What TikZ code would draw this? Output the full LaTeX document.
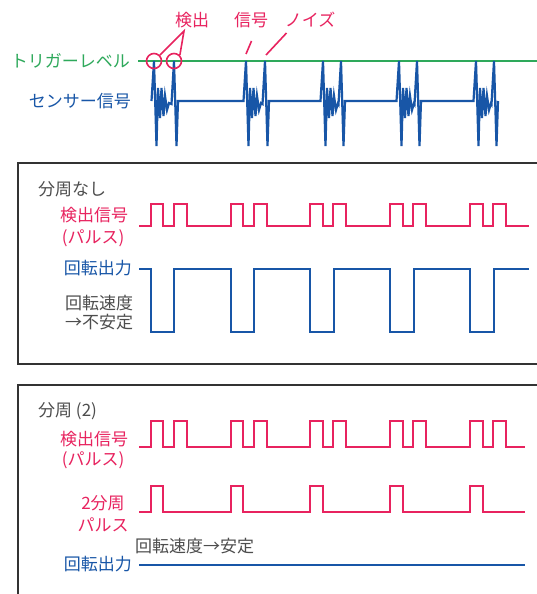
\documentclass[tikz,border=0pt]{standalone}
\usepackage{fontspec}
\setmainfont{Noto Sans CJK JP}
\definecolor{sigred}{HTML}{E8235F}
\definecolor{siggreen}{HTML}{2EA95B}
\definecolor{sigblue}{HTML}{1856A7}
\definecolor{txtgray}{HTML}{4D4D4D}
\definecolor{boxgray}{HTML}{333333}
\tikzset{
  lbl/.style={font=\fontsize{17}{19}\selectfont, inner sep=0pt, align=center},
  wave/.style={line width=2pt, line join=miter},
  frame/.style={draw=boxgray, line width=1.1pt}
}
\begin{document}
\begin{tikzpicture}[x=1pt, y=-1pt]
\clip (0,0) rectangle (537,594);
\fill[white] (0,0) rectangle (537,594);
% sensor signal
\node[lbl, siggreen, anchor=east] (trig) at (130,61) {トリガーレベル};
\node[lbl, sigblue, anchor=east] (sens) at (131,101) {センサー信号};
\coordinate (trigend) at (537,61);
\draw[siggreen, line width=1.8pt] ([xshift=8pt]trig.east) -- (trigend);
\draw[wave, sigblue, line width=2.2pt] (151.5,101)
  \foreach \s/\t in {154/174, 246/265, 323/341, 399/417, 476/494}
  { -- (\s-2.5,101) -- (\s,61) -- (\s+2.5,146) -- (\s+4,88) -- (\s+6,118)
    -- (\s+7.5,88) -- (\s+9.5,116) -- (\s+11,96) -- (\s+13,110) -- (\s+15,103)
    -- (\t-2.5,104) -- (\t,61) -- (\t+2.5,146) -- (\t+4,101) };
\node[circle, draw=sigred, line width=1.6pt, minimum size=15pt, inner sep=0pt] (det1) at (154,61) {};
\node[circle, draw=sigred, line width=1.6pt, minimum size=15pt, inner sep=0pt] (det2) at (174,61) {};
\node[lbl, sigred] (kenshutsu) at (192,20) {検出};
\node[lbl, sigred] (shingo) at (251,20) {信号};
\node[lbl, sigred] (noise) at (310,20) {ノイズ};
\coordinate (meet) at (184,31);
\draw[sigred, line width=1.6pt] (det1.north east) -- (meet) -- (det2.north east);
\draw[sigred, line width=1.6pt] (246,54) -- (251.5,41);
\draw[sigred, line width=1.6pt] (266,55) -- (286.5,33);
% no division
\draw[frame] (18,163) rectangle (545,364);
\node[lbl, txtgray, anchor=west] (nodiv) at (38,189) {分周なし};
\node[lbl, sigred] (pulseA) at (94,215) {検出信号};
\node[lbl, sigred] (pulseB) at (93,238) {(パルス)};
\node[lbl, sigblue, anchor=east] (outA) at (132,268) {回転出力};
\node[lbl, txtgray] (speedA) at (99,313) {回転速度\\→不安定};
\draw[wave, sigred] (139,226)
  \foreach \b in {150.5,230.5,310,390,470}
  { -- (\b,226) -- (\b,204) -- (\b+12.5,204) -- (\b+12.5,226)
    -- (\b+23,226) -- (\b+23,204) -- (\b+36,204) -- (\b+36,226) } -- (529,226);
\draw[wave, sigblue] (139,269)
  \foreach \b in {150.5,230.5,310,390,470}
  { -- (\b,269) -- (\b,332) -- (\b+23.5,332) -- (\b+23.5,269) } -- (529,269);
% division by 2
\draw[frame] (18,385) rectangle (545,610);
\node[lbl, txtgray, anchor=west] (div) at (38,411) {分周 (2)};
\node[lbl, sigred] (pulseC) at (94,439) {検出信号};
\node[lbl, sigred] (pulseD) at (93,460) {(パルス)};
\node[lbl, sigred] (halfA) at (103,503) {2分周};
\node[lbl, sigred] (halfB) at (103,525) {パルス};
\node[lbl, txtgray, anchor=west] (speedB) at (135,546) {回転速度→安定};
\node[lbl, sigblue, anchor=east] (outB) at (132,564) {回転出力};
\draw[wave, sigred] (139,447)
  \foreach \b in {150.5,230.5,310,390,470}
  { -- (\b,447) -- (\b,421) -- (\b+12.5,421) -- (\b+12.5,447)
    -- (\b+23,447) -- (\b+23,421) -- (\b+36,421) -- (\b+36,447) } -- (525,447);
\draw[wave, sigred] (139,512)
  \foreach \b in {150.5,230.5,310,390,470}
  { -- (\b,512) -- (\b,486) -- (\b+12.5,486) -- (\b+12.5,512) } -- (525,512);
\coordinate (outend) at (525,565);
\draw[wave, sigblue] ([xshift=7pt]outB.east |- outend) -- (outend);
\end{tikzpicture}
\end{document}
